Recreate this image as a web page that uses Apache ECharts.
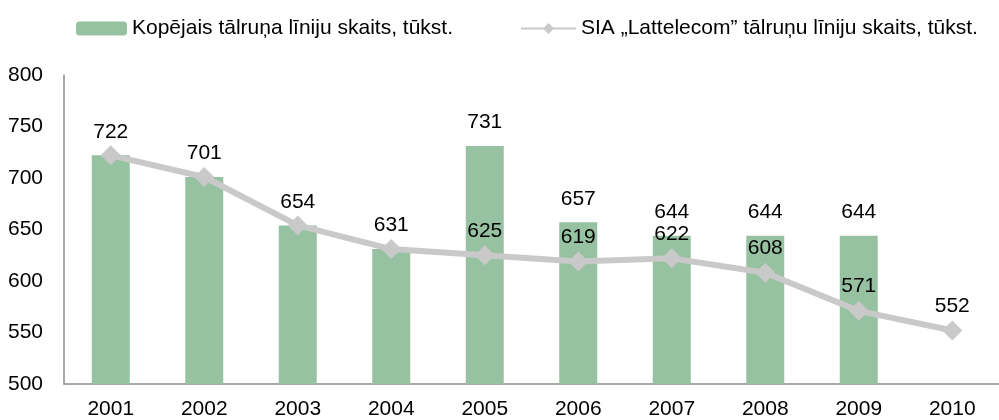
<!DOCTYPE html>
<html>
<head>
<meta charset="utf-8">
<script src="https://cdn.jsdelivr.net/npm/echarts@6/dist/echarts.min.js"></script>
<style>html,body{margin:0;padding:0;background:#fff;}#c{width:999px;height:420px;}</style>
</head>
<body>
<div id="c"></div>
<script>
const years = ['2001','2002','2003','2004','2005','2006','2007','2008','2009','2010'];
const totalLines = [722, 701, 654, 631, 731, 657, 644, 644, 644, null];
const lattelecomLines = [722, 701, 654, 631, 625, 619, 622, 608, 571, 552];
const barName = 'Kopējais tālruņa līniju skaits, tūkst.';
const lineName = 'SIA „Lattelecom” tālruņu līniju skaits, tūkst.';
const yTicks = {min: 500, max: 800, interval: 50};

const FONT = '"Liberation Sans", Arial, sans-serif';
const FS = 21;
const chart = echarts.init(document.getElementById('c'), null, {renderer: 'canvas'});
chart.setOption({
  animation: false,
  backgroundColor: '#fff',
  textStyle: {fontFamily: FONT},
  legend: [
    {data: [barName], left: 71, top: 13, itemWidth: 51, itemHeight: 14, itemTextGap: 5,
     textStyle: {fontSize: FS, color: '#000', fontFamily: FONT}},
    {data: [lineName], left: 515, top: 13, itemWidth: 55, itemHeight: 14, itemTextGap: 3,
     textStyle: {fontSize: FS, color: '#000', fontFamily: FONT}}
  ],
  grid: {left: 64, top: 75, width: 950, height: 310, containLabel: false},
  xAxis: {
    type: 'category', data: years,
    axisLine: {lineStyle: {color: '#8c8c8c', width: 1.5}},
    axisTick: {show: false},
    axisLabel: {fontSize: FS, color: '#000', margin: 15, fontFamily: FONT}
  },
  yAxis: {
    type: 'value', min: yTicks.min, max: yTicks.max, interval: yTicks.interval,
    axisLine: {show: true, lineStyle: {color: '#8c8c8c', width: 1.5}},
    axisTick: {show: false},
    splitLine: {show: false},
    axisLabel: {fontSize: FS, color: '#000', margin: 21, fontFamily: FONT}
  },
  series: [
    {
      name: barName, type: 'bar', data: totalLines, barWidth: 38,
      itemStyle: {color: '#96c2a1'},
      label: {show: true, position: 'top', distance: 13, fontSize: FS, color: '#000', fontFamily: FONT}
    },
    {
      name: lineName, type: 'line', data: lattelecomLines,
      symbol: 'diamond', symbolSize: 20,
      lineStyle: {color: '#c9c9c9', width: 6},
      itemStyle: {color: '#c9c9c9'},
      label: {show: true, position: 'top', distance: 4, fontSize: FS, color: '#000', fontFamily: FONT,
        formatter: p => (totalLines[p.dataIndex] === p.value ? '' : String(p.value))}
    }
  ]
});
</script>
</body>
</html>
